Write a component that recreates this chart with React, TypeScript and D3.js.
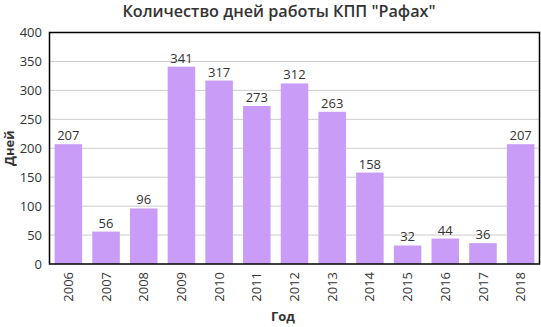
import React from "react";
import * as d3 from "d3";

const years = ["2006","2007","2008","2009","2010","2011","2012","2013","2014","2015","2016","2017","2018"];
const days = [207,56,96,341,317,273,312,263,158,32,44,36,207];
const yTicks = [0,50,100,150,200,250,300,350,400];

export default function App() {
  const W = 541, H = 327;
  const left = 49.5, right = 539.5, top = 32.5, bottom = 264;
  const x = d3.scaleBand<string>().domain(years).range([left, right]).paddingInner(0.27).paddingOuter(0.135);
  const y = d3.scaleLinear().domain([0, 400]).range([bottom, top]);
  const font = "'Open Sans', sans-serif";
  return (
    <svg width={W} height={H} style={{ position: "absolute", left: 0, top: 0, background: "#fff" }} fontFamily={font}>
      <text x={279} y={17} textAnchor="middle" fontSize={16.2} fontWeight={600} fill="#333">Количество дней работы КПП "Рафах"</text>
      {yTicks.map(t => (
        <g key={t}>
          {t > 0 && t < 400 && <line x1={left} x2={right} y1={y(t)} y2={y(t)} stroke="#ccc" strokeWidth={1} />}
          <text x={42} y={y(t)} dy="0.35em" textAnchor="end" fontSize={13} fill="#333">{t}</text>
        </g>
      ))}
      {years.map((yr, i) => (
        <g key={yr}>
          <rect x={x(yr)} y={y(days[i])} width={x.bandwidth()} height={bottom - y(days[i])} fill="#c99cf7" />
          <text x={x(yr)! + x.bandwidth() / 2} y={y(days[i]) - 4} textAnchor="middle" fontSize={13} fill="#333">{days[i]}</text>
          <text transform={`translate(${x(yr)! + x.bandwidth() / 2},${bottom + 8}) rotate(-90)`} dy="0.35em" textAnchor="end" fontSize={13} fill="#333">{yr}</text>
        </g>
      ))}
      <rect x={left} y={top} width={right - left} height={bottom - top} fill="none" stroke="#000" strokeWidth={1.5} />
      <text transform={`translate(9,${(top + bottom) / 2}) rotate(-90)`} dy="0.35em" textAnchor="middle" fontSize={13} fontWeight={700} fill="#333">Дней</text>
      <text x={283} y={321} textAnchor="middle" fontSize={13} fontWeight={700} fill="#333">Год</text>
    </svg>
  );
}
